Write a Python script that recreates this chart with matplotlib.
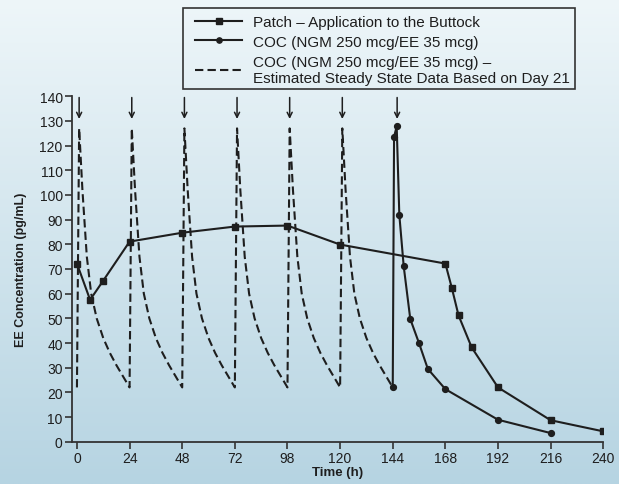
import numpy as np
import matplotlib
matplotlib.use('Agg')
import matplotlib.pyplot as plt
from matplotlib.lines import Line2D
from matplotlib.patches import Rectangle

plt.rcParams['font.family'] = ['Liberation Sans', 'DejaVu Sans']

# Patch - application to the buttock
PATCH_T = [0, 6, 12, 24, 48, 72, 96, 120, 168, 171, 174, 180, 192, 216, 240]
PATCH_C = [72.2, 57.5, 65.3, 81.1, 84.7, 87.2, 87.6, 79.9, 72.2, 62.1, 51.2,
           38.2, 22.0, 8.7, 4.2]

# COC, day 7 dose
COC_T = [144, 144.6, 145.8, 147, 149, 152, 156, 160, 168, 192, 216]
COC_C = [22.0, 123.6, 127.8, 91.9, 71.1, 49.7, 39.9, 29.5, 21.3, 8.9, 3.5]

# COC estimated steady state: day-21 profile repeated after each daily dose
DOSE_DAYS = [0, 24, 48, 72, 96, 120]
SS_REL_T = [0, 1, 2.5, 4.5, 6.5, 9, 12, 15, 18, 21, 24]
SS_REL_C = [22, 127, 102, 75, 60, 50, 42, 36, 31, 26.5, 22]

# dosing arrows
ARROW_T = [1, 25, 49, 73, 97, 121, 146]

X_TICKS = [0, 24, 48, 72, 96, 120, 144, 168, 192, 216, 240]
X_LABELS = ['0', '24', '48', '72', '98', '120', '144', '168', '192', '216', '240']
Y_TICKS = list(range(0, 141, 10))

INK = '#1e1e1e'
W, H = 619, 485

fig = plt.figure(figsize=(W / 100, H / 100), dpi=100)

# background gradient
bg = fig.add_axes([0, 0, 1, 1], zorder=-10)
top = np.array([238, 246, 249]) / 255
bot = np.array([182, 212, 226]) / 255
grad = np.linspace(0, 1, 256)[:, None]
img = top[None, None, :] * (1 - grad[..., None]) + bot[None, None, :] * grad[..., None]
bg.imshow(np.repeat(img, 2, axis=1), aspect='auto', extent=[0, 1, 0, 1])
bg.axis('off')

ax = fig.add_axes([0.1158, 0.0872, 0.8588, 0.7122])
ax.set_facecolor('none')

ss_t, ss_c = [], []
for d in DOSE_DAYS:
    ss_t += [d + r for r in SS_REL_T]
    ss_c += SS_REL_C
ax.plot(ss_t, ss_c, color=INK, lw=1.5, ls=(0, (4, 2)))

ax.plot(PATCH_T, PATCH_C, color=INK, lw=1.5, marker='s', ms=4.8,
        markeredgecolor=INK, zorder=3)
ax.plot(COC_T, COC_C, color=INK, lw=1.5, marker='o', ms=4.2,
        markeredgecolor=INK, zorder=3)

for t in ARROW_T:
    ax.annotate('', xy=(t, 130.8), xytext=(t, 139.5),
                arrowprops=dict(arrowstyle='->', color=INK, lw=1.1,
                                mutation_scale=9, shrinkA=0, shrinkB=0))

ax.set_xlim(-2.4, 240)
ax.set_ylim(0, 140)
ax.set_xticks(X_TICKS)
ax.set_xticklabels(X_LABELS)
ax.set_yticks(Y_TICKS)
for s in ['top', 'right']:
    ax.spines[s].set_visible(False)
for s in ['left', 'bottom']:
    ax.spines[s].set_color('#333333')
    ax.spines[s].set_linewidth(1.3)
ax.spines['bottom'].set_bounds(-2.4, 240)
ax.tick_params(direction='out', length=5, width=1.2, color='#333333',
               labelsize=10, labelcolor=INK, pad=1.5)

ax.set_xlabel('Time (h)', fontsize=9.5, fontweight='bold', color=INK, labelpad=1)
ax.set_ylabel('EE Concentration (pg/mL)', fontsize=9, fontweight='bold',
              color=INK, labelpad=9)

handles = [
    Line2D([], [], color=INK, lw=1.5, marker='s', ms=4.5),
    Line2D([], [], color=INK, lw=1.5, marker='o', ms=3.8),
    Line2D([], [], color=INK, lw=1.5, ls=(0, (4, 2))),
]
labels = [
    'Patch \u2013 Application to the Buttock',
    'COC (NGM 250 mcg/EE 35 mcg)',
    'COC (NGM 250 mcg/EE 35 mcg) \u2013\nEstimated Steady State Data Based on Day 21',
]
leg = fig.legend(handles, labels, loc='upper left',
                 bbox_to_anchor=(195 / W, 1 - 16 / H), bbox_transform=fig.transFigure,
                 borderaxespad=0, borderpad=0, fontsize=11, handlelength=3.1,
                 handletextpad=0.69, labelspacing=0.38, frameon=False)
for txt in leg.get_texts():
    txt.set_color(INK)

# legend frame
fig.patches.append(Rectangle((183 / W, 1 - 90 / H), 392 / W, 81 / H,
                             transform=fig.transFigure, fill=False,
                             edgecolor='#333333', linewidth=1.2))

fig.savefig('out.png', dpi=100)
